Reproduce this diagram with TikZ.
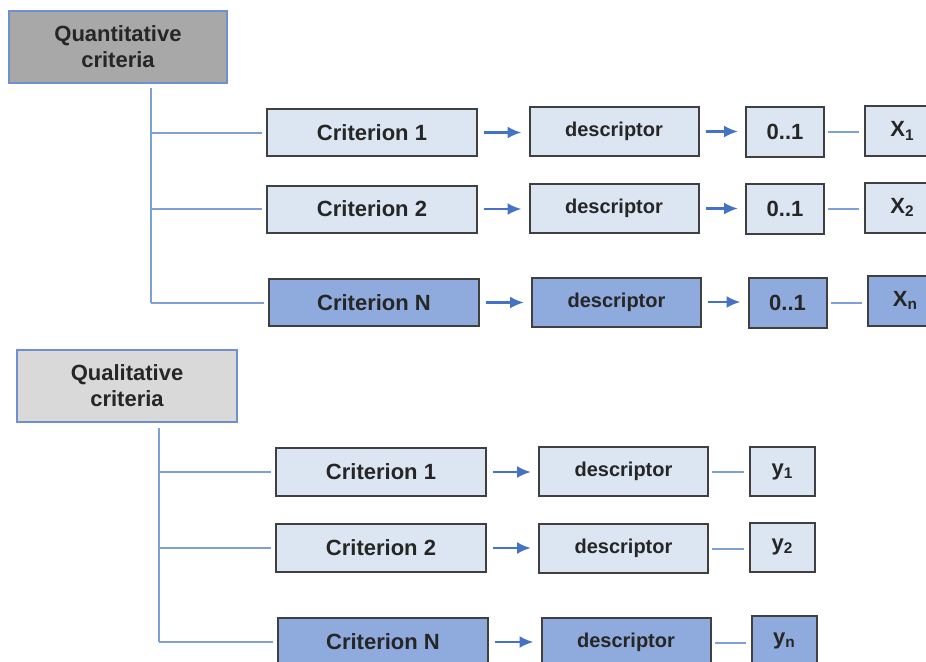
\documentclass[tikz,border=0pt]{standalone}
\usepackage{fontspec}
\setmainfont{Liberation Sans}
\usetikzlibrary{arrows.meta}
\definecolor{lightfill}{HTML}{DCE6F2}
\definecolor{darkfill}{HTML}{8FAADC}
\definecolor{boxline}{HTML}{404040}
\definecolor{quantfill}{HTML}{A8A8A8}
\definecolor{qualfill}{HTML}{D9D9D9}
\definecolor{headline}{HTML}{6F8FD0}
\definecolor{trunkline}{HTML}{7F9FD8}
\definecolor{arrowline}{HTML}{4472C4}
\definecolor{textgray}{HTML}{262626}
\begin{document}
\begin{tikzpicture}[x=0.5pt,y=-0.5pt,
    every node/.style={inner sep=0pt,text=textgray,font=\bfseries\fontsize{11}{13}\selectfont},
    headbox/.style={draw=headline,line width=1pt,minimum width=109pt,minimum height=36pt,align=center},
    critbox/.style={draw=boxline,line width=1pt,minimum width=105pt,minimum height=23.5pt},
    descbox/.style={draw=boxline,line width=1pt,minimum width=84.5pt,minimum height=24.5pt,font=\bfseries\fontsize{10}{12}\selectfont},
    rangebox/.style={draw=boxline,line width=1pt,minimum width=39pt,minimum height=25pt},
    varbox/.style={draw=boxline,line width=1pt,minimum width=37.5pt,minimum height=25pt},
    ybox/.style={draw=boxline,line width=1pt,minimum width=32.5pt,minimum height=24.5pt},
    branch/.style={trunkline,line width=1pt,shorten >=2pt},
    link/.style={arrowline,line width=1.2pt,-{Latex[length=7pt,width=6pt]},shorten <=3pt,shorten >=3.5pt},
    tie/.style={trunkline,line width=1pt,shorten <=1.5pt,shorten >=2.5pt}]
    \clip (0,0) rectangle (926,661);
    % quantitative part
    \node[headbox,fill=quantfill] (quant) at (118,47) {Quantitative\\criteria};
    \coordinate (qtop) at (151,88);
    \node[critbox,fill=lightfill] (qc1) at (372,132.5) {Criterion 1};
    \node[critbox,fill=lightfill] (qc2) at (372,209) {Criterion 2};
    \node[critbox,fill=darkfill] (qcN) at (374,302.5) {Criterion N};
    \node[descbox,fill=lightfill] (qd1) at (614,131.5) {descriptor};
    \node[descbox,fill=lightfill] (qd2) at (614,208.5) {descriptor};
    \node[descbox,fill=darkfill] (qdN) at (616.5,302) {descriptor};
    \node[rangebox,fill=lightfill] (qr1) at (785,132) {0..1};
    \node[rangebox,fill=lightfill] (qr2) at (785,208.5) {0..1};
    \node[rangebox,fill=darkfill] (qrN) at (787.5,302.5) {0..1};
    \node[varbox,fill=lightfill] (qx1) at (902.5,131) {X\textsubscript{1}};
    \node[varbox,fill=lightfill] (qx2) at (902.5,207.5) {X\textsubscript{2}};
    \node[varbox,fill=darkfill] (qxN) at (905.5,300.5) {X\textsubscript{n}};
    \draw[trunkline,line width=1pt] (qtop) -- (qtop |- qcN);
    \draw[branch] (qtop |- qc1) -- (qc1.west);
    \draw[branch] (qtop |- qc2) -- (qc2.west);
    \draw[branch] (qtop |- qcN) -- (qcN.west);
    \draw[link] (qc1.east) -- (qc1.east -| qd1.west);
    \draw[link] (qc2.east) -- (qc2.east -| qd2.west);
    \draw[link] (qcN.east) -- (qcN.east -| qdN.west);
    \draw[link] (qd1.east) -- (qd1.east -| qr1.west);
    \draw[link] (qd2.east) -- (qd2.east -| qr2.west);
    \draw[link] (qdN.east) -- (qdN.east -| qrN.west);
    \draw[tie] (qr1.east) -- (qr1.east -| qx1.west);
    \draw[tie] (qr2.east) -- (qr2.east -| qx2.west);
    \draw[tie] (qrN.east) -- (qrN.east -| qxN.west);
    % qualitative part
    \node[headbox,fill=qualfill,minimum width=110pt] (qual) at (127,386) {Qualitative\\criteria};
    \coordinate (ltop) at (159,428);
    \node[critbox,fill=lightfill,minimum height=24pt] (lc1) at (381,472) {Criterion 1};
    \node[critbox,fill=lightfill,minimum height=24pt] (lc2) at (381,548) {Criterion 2};
    \node[critbox,fill=darkfill,minimum height=24pt] (lcN) at (383,642) {Criterion N};
    \node[descbox,fill=lightfill] (ld1) at (623.5,471.5) {descriptor};
    \node[descbox,fill=lightfill] (ld2) at (623.5,548.5) {descriptor};
    \node[descbox,fill=darkfill] (ldN) at (626,642.5) {descriptor};
    \node[ybox,fill=lightfill] (ly1) at (782.5,471.5) {y\textsubscript{1}};
    \node[ybox,fill=lightfill] (ly2) at (782.5,547) {y\textsubscript{2}};
    \node[ybox,fill=darkfill] (lyN) at (784.5,640.5) {y\textsubscript{n}};
    \draw[trunkline,line width=1pt] (ltop) -- (ltop |- lcN);
    \draw[branch] (ltop |- lc1) -- (lc1.west);
    \draw[branch] (ltop |- lc2) -- (lc2.west);
    \draw[branch] (ltop |- lcN) -- (lcN.west);
    \draw[link] (lc1.east) -- (lc1.east -| ld1.west);
    \draw[link] (lc2.east) -- (lc2.east -| ld2.west);
    \draw[link] (lcN.east) -- (lcN.east -| ldN.west);
    \draw[tie] (ld1.east) -- (ld1.east -| ly1.west);
    \draw[tie] (ld2.east) -- (ld2.east -| ly2.west);
    \draw[tie] (ldN.east) -- (ldN.east -| lyN.west);
\end{tikzpicture}
\end{document}
